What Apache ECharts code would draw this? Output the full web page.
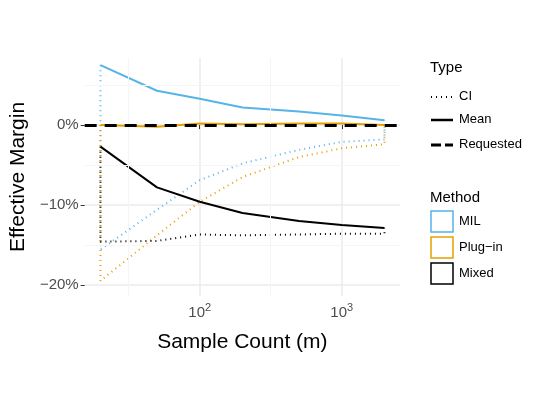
<!DOCTYPE html>
<html><head><meta charset="utf-8">
<script src="https://cdn.jsdelivr.net/npm/echarts@6/dist/echarts.min.js"></script>
<style>html,body{margin:0;padding:0;background:#fff}#c{width:540px;height:405px}</style>
</head><body><div id="c"></div>
<script>
// sample counts and effective margins (%)
var sampleCounts = [20, 50, 100, 200, 500, 1000, 2000];
var milMean = [7.5, 4.3, 3.3, 2.2, 1.7, 1.2, 0.6];
var milCI = [-15.6, -10.6, -6.9, -4.8, -3.1, -2.1, -1.8];
var plugMean = [0.0, -0.2, 0.2, 0.1, 0.2, 0.2, 0.0];
var plugCI = [-19.5, -13.8, -9.6, -6.5, -4.0, -2.9, -2.4];
var mixMean = [-2.7, -7.8, -9.6, -11.0, -12.0, -12.5, -12.9];
var mixCI = [-14.6, -14.5, -13.7, -13.8, -13.7, -13.6, -13.6];
var yTicks = [-20, -10, 0];
var xTicks = [100, 1000];

var myChart = echarts.init(document.getElementById('c'));
var lg = function (v) { return Math.log10(v); };
var font = 'Liberation Sans';

function meanLine(name, vals, color) {
    return {
        name: name, type: 'line', symbol: 'none', z: 4,
        lineStyle: {color: color, width: 2},
        data: sampleCounts.map(function (m, i) { return [lg(m), vals[i]]; })
    };
}
function ciLine(name, mean, ci, color) {
    var n = sampleCounts.length;
    var d = [[lg(sampleCounts[0]), mean[0]]];
    sampleCounts.forEach(function (m, i) { d.push([lg(m), ci[i]]); });
    d.push([lg(sampleCounts[n - 1]), mean[n - 1]]);
    return {
        name: name, type: 'line', symbol: 'none', z: 3,
        lineStyle: {color: color, width: 2, type: [1, 4]},
        data: d
    };
}

var blue = '#56b4e9', orange = '#e69f00';
var minorX = [1.5, 2.5, 3.5], minorY = [-15, -5, 5];

option = {
    animation: false,
    grid: {left: 78, right: 140, top: 58, bottom: 109},
    xAxis: {
        type: 'value', min: 1.19, max: 3.41,
        axisLine: {show: false},
        axisTick: {customValues: xTicks.map(lg), length: 4, lineStyle: {color: '#333'}},
        splitLine: {show: true, lineStyle: {color: '#ebebeb', width: 1.5}},
        axisLabel: {
            customValues: xTicks.map(lg), margin: 6,
            formatter: function (v) { return '{b|10}{s|' + Math.round(v) + '}'; },
            rich: {b: {fontSize: 15, color: '#4d4d4d', fontFamily: font},
                   s: {fontSize: 11, color: '#4d4d4d', verticalAlign: 'top', padding: [0, 0, 10, 0], fontFamily: font}}
        },
        name: 'Sample Count (m)', nameLocation: 'middle', nameGap: 36,
        nameTextStyle: {fontSize: 21, color: '#000', fontFamily: font}
    },
    yAxis: {
        type: 'value', min: -21.4, max: 8.4,
        axisLine: {show: false},
        axisTick: {show: true, customValues: yTicks, length: 4, lineStyle: {color: '#333'}},
        splitLine: {show: true, lineStyle: {color: '#ebebeb', width: 1.5}},
        axisLabel: {customValues: yTicks, margin: 6, fontSize: 15, color: '#4d4d4d', fontFamily: font,
            formatter: function (v) { return (v < 0 ? '\u2212' + (-v) : v) + '%'; }},
        name: 'Effective Margin', nameLocation: 'middle', nameGap: 50,
        nameTextStyle: {fontSize: 21, color: '#000', fontFamily: font}
    },
    series: [
        {
            type: 'line', data: [], silent: true,
            markLine: {
                symbol: 'none', silent: true, label: {show: false},
                lineStyle: {color: '#f5f5f5', width: 1, type: 'solid'},
                data: minorX.map(function (v) { return {xAxis: v}; })
                    .concat(minorY.map(function (v) { return {yAxis: v}; }))
            }
        },
        ciLine('MIL CI', milMean, milCI, blue),
        ciLine('Plug-in CI', plugMean, plugCI, orange),
        ciLine('Mixed CI', mixMean, mixCI, '#000'),
        meanLine('MIL', milMean, blue),
        {
            type: 'line', data: [], z: 2,
            markLine: {
                symbol: 'none', silent: true, label: {show: false},
                lineStyle: {color: '#000', width: 3, type: [12, 8]},
                data: [{yAxis: 0}]
            }
        },
        meanLine('Plug-in', plugMean, orange),
        meanLine('Mixed', mixMean, '#000')
    ],
    graphic: [
        {type: 'text', left: 430, top: 60, style: {text: 'Type', fontSize: 15, fill: '#000', fontFamily: font}},
        {type: 'line', shape: {x1: 431, y1: 97, x2: 453, y2: 97}, style: {stroke: '#000', lineWidth: 2, lineDash: [1, 4]}},
        {type: 'text', left: 459, top: 90, style: {text: 'CI', fontSize: 13, fill: '#000', fontFamily: font}},
        {type: 'line', shape: {x1: 431, y1: 120, x2: 453, y2: 120}, style: {stroke: '#000', lineWidth: 2.5}},
        {type: 'text', left: 459, top: 113, style: {text: 'Mean', fontSize: 13, fill: '#000', fontFamily: font}},
        {type: 'line', shape: {x1: 431, y1: 145, x2: 453, y2: 145}, style: {stroke: '#000', lineWidth: 3, lineDash: [10, 4]}},
        {type: 'text', left: 459, top: 138, style: {text: 'Requested', fontSize: 13, fill: '#000', fontFamily: font}},
        {type: 'text', left: 430, top: 190, style: {text: 'Method', fontSize: 15, fill: '#000', fontFamily: font}},
        {type: 'rect', shape: {x: 431, y: 211, width: 22, height: 21}, style: {fill: '#fff', stroke: blue, lineWidth: 1.5}},
        {type: 'text', left: 459, top: 215, style: {text: 'MIL', fontSize: 13, fill: '#000', fontFamily: font}},
        {type: 'rect', shape: {x: 431, y: 237, width: 22, height: 21}, style: {fill: '#fff', stroke: orange, lineWidth: 1.5}},
        {type: 'text', left: 459, top: 241, style: {text: 'Plug\u2212in', fontSize: 13, fill: '#000', fontFamily: font}},
        {type: 'rect', shape: {x: 431, y: 263, width: 22, height: 21}, style: {fill: '#fff', stroke: '#000', lineWidth: 1.5}},
        {type: 'text', left: 459, top: 267, style: {text: 'Mixed', fontSize: 13, fill: '#000', fontFamily: font}}
    ]
};
myChart.setOption(option);
</script></body></html>
